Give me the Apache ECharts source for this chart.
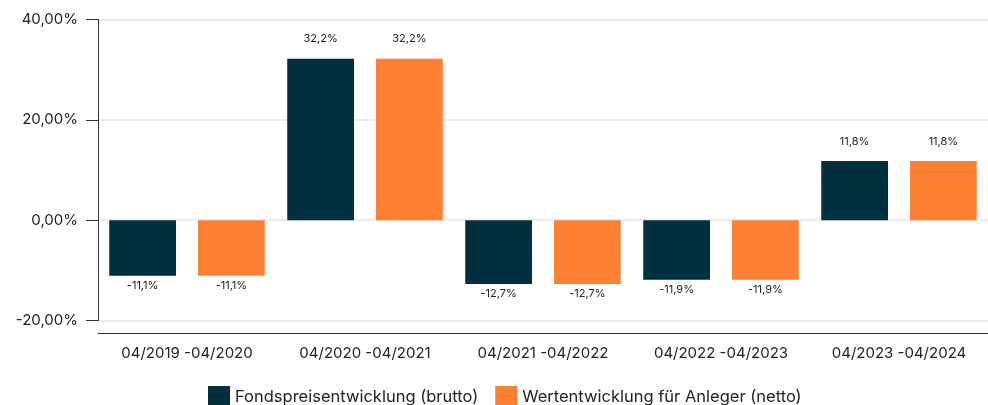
<!DOCTYPE html>
<html>
<head>
<meta charset="utf-8">
<script src="https://cdn.jsdelivr.net/npm/echarts@6/dist/echarts.min.js"></script>
<style>
  html, body { margin: 0; padding: 0; background: #fff; }
  #chart { width: 988px; height: 405px; }
</style>
</head>
<body>
<div id="chart"></div>
<script>
  var categories = ['04/2019 -04/2020', '04/2020 -04/2021', '04/2021 -04/2022', '04/2022 -04/2023', '04/2023 -04/2024'];
  var brutto = [-11.1, 32.2, -12.7, -11.9, 11.8];
  var netto = [-11.1, 32.2, -12.7, -11.9, 11.8];
  var seriesNames = ['Fondspreisentwicklung (brutto)', 'Wertentwicklung für Anleger (netto)'];
  var colors = ['#03303f', '#fe8133'];
  var fontFamily = 'Inter, "Noto Sans", sans-serif';

  function fmt(v, d) {
    return v.toFixed(d).replace('.', ',') + '%';
  }

  // Beschriftung oben bei positiven, unten bei negativen Werten
  function toItems(arr) {
    return arr.map(function (v) {
      return {
        value: v,
        label: v >= 0 ? { position: 'top', distance: 14 } : { position: 'bottom', distance: 4 }
      };
    });
  }

  var barLabel = {
    show: true,
    fontSize: 11,
    color: '#222',
    fontFamily: fontFamily,
    formatter: function (p) { return fmt(p.value, 1); }
  };

  var chart = echarts.init(document.getElementById('chart'));
  chart.setOption({
    animation: false,
    textStyle: { fontFamily: fontFamily },
    grid: { left: 98, right: 0, top: 19.5, bottom: 84.5, containLabel: false },
    legend: {
      left: 203,
      top: 381,
      itemWidth: 22,
      itemHeight: 22,
      itemGap: 17,
      icon: 'rect',
      textStyle: { fontSize: 16.5, color: '#222', fontFamily: fontFamily },
      data: seriesNames
    },
    xAxis: {
      type: 'category',
      data: categories,
      offset: 13,
      axisLine: { show: true, onZero: false, lineStyle: { color: '#333', width: 1 } },
      axisTick: { show: false },
      axisLabel: { fontSize: 15, color: '#222', margin: 12, fontFamily: fontFamily }
    },
    yAxis: {
      type: 'value',
      min: -20,
      max: 40,
      interval: 20,
      axisLine: { show: true, lineStyle: { color: '#333', width: 1 } },
      axisTick: { show: true, length: 12, lineStyle: { color: '#333' } },
      axisLabel: {
        fontSize: 15, color: '#222', margin: 20, fontFamily: fontFamily,
        formatter: function (v) { return fmt(v, 2); }
      },
      splitLine: { show: true, lineStyle: { color: '#e4e4e4', width: 1.5 } }
    },
    series: [
      {
        name: seriesNames[0],
        type: 'bar',
        data: toItems(brutto),
        barWidth: '37.5%',
        barGap: '33%',
        itemStyle: { color: colors[0] },
        label: barLabel
      },
      {
        name: seriesNames[1],
        type: 'bar',
        data: toItems(netto),
        barWidth: '37.5%',
        barGap: '33%',
        itemStyle: { color: colors[1] },
        label: barLabel
      }
    ]
  });
</script>
</body>
</html>
